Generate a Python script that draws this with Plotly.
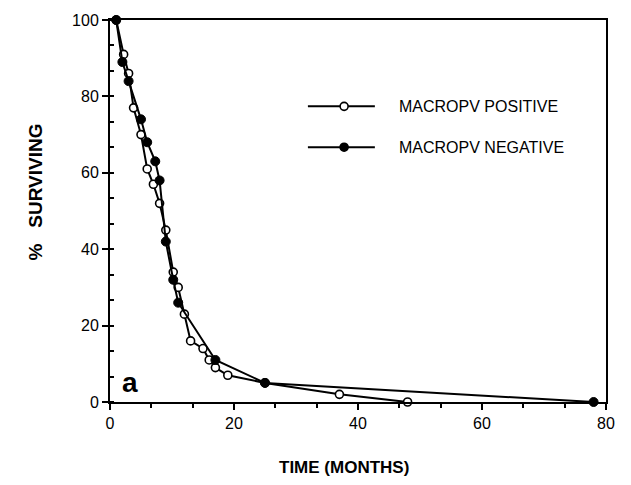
import plotly.graph_objects as go

# Data
pos_time = [1, 2.2, 3, 3.8, 5, 6, 7, 8, 9, 10.2, 11, 12, 13, 15, 16, 17, 19, 25, 37, 48]
pos_surv = [100, 91, 86, 77, 70, 61, 57, 52, 45, 34, 30, 23, 16, 14, 11, 9, 7, 5, 2, 0]
neg_time = [1, 2, 3, 5, 6, 7.3, 8, 9, 10.2, 11, 17, 25, 78]
neg_surv = [100, 89, 84, 74, 68, 63, 58, 42, 32, 26, 11, 5, 0]
series_names = ["MACROPV POSITIVE", "MACROPV NEGATIVE"]
x_ticks = [0, 20, 40, 60, 80]
y_ticks = [0, 20, 40, 60, 80, 100]

FONT = "Liberation Sans, Arial, sans-serif"

fig = go.Figure()
fig.add_trace(go.Scatter(
    x=pos_time, y=pos_surv, mode="lines+markers", name=series_names[0],
    line=dict(color="black", width=2),
    marker=dict(symbol="circle", size=8, color="white", line=dict(color="black", width=1.6)),
    showlegend=False, cliponaxis=False))
fig.add_trace(go.Scatter(
    x=neg_time, y=neg_surv, mode="lines+markers", name=series_names[1],
    line=dict(color="black", width=2),
    marker=dict(symbol="circle", size=9, color="black", line=dict(color="black", width=1)),
    showlegend=False, cliponaxis=False))

# Legend (drawn manually to match the reference's long key lines)
legend_rows = [(0.774, "white"), (0.667, "black")]
for (yp, fill), name in zip(legend_rows, series_names):
    fig.add_shape(type="line", xref="paper", yref="paper", x0=0.399, x1=0.534, y0=yp, y1=yp,
                  line=dict(color="black", width=2))
    fig.add_shape(type="circle", xref="paper", yref="paper", xsizemode="pixel", ysizemode="pixel",
                  xanchor=0.472, yanchor=yp, x0=-4, x1=4, y0=-4, y1=4,
                  fillcolor=fill, line=dict(color="black", width=1.6))
    fig.add_annotation(xref="paper", yref="paper", x=0.578, y=yp, text=name, showarrow=False,
                       xanchor="left", yanchor="middle", font=dict(family=FONT, size=16, color="black"))

# Axis titles
fig.add_annotation(xref="paper", yref="paper", x=0.471, y=-0.172, text="<b>TIME (MONTHS)</b>",
                   showarrow=False, xanchor="center", yanchor="middle",
                   font=dict(family=FONT, size=17, color="black"))
fig.add_annotation(xref="paper", yref="paper", x=-0.151, y=0.549, text="<b>%   SURVIVING</b>",
                   showarrow=False, textangle=-90, xanchor="center", yanchor="middle",
                   font=dict(family=FONT, size=19, color="black"))
fig.add_annotation(xref="paper", yref="paper", x=0.02, y=0.05, text="<b>a</b>",
                   showarrow=False, xanchor="left", yanchor="middle",
                   font=dict(family=FONT, size=28, color="black"))

fig.update_xaxes(range=[0, 80], tickvals=x_ticks, ticks="outside", ticklen=6, tickwidth=1.5,
                 tickcolor="black", showline=True, linecolor="black", linewidth=2, mirror=True,
                 showgrid=False, zeroline=False,
                 tickfont=dict(family=FONT, size=16, color="black"),
                 minor=dict(dtick=20/3, tick0=0, ticks="outside", ticklen=4, tickcolor="black",
                            tickwidth=1.5, showgrid=False))
fig.update_yaxes(range=[0, 100], tickvals=y_ticks, ticks="outside", ticklen=6, tickwidth=1.5,
                 tickcolor="black", showline=True, linecolor="black", linewidth=2, mirror=True,
                 showgrid=False, zeroline=False,
                 tickfont=dict(family=FONT, size=16, color="black"),
                 minor=dict(dtick=20/3, tick0=0, ticks="inside", ticklen=4, tickcolor="black",
                            tickwidth=1.5, showgrid=False))

fig.update_layout(width=631, height=485, margin=dict(l=110, r=25, t=12, b=83),
                  plot_bgcolor="white", paper_bgcolor="white",
                  font=dict(family=FONT, color="black"))

fig.write_html("out.html")
